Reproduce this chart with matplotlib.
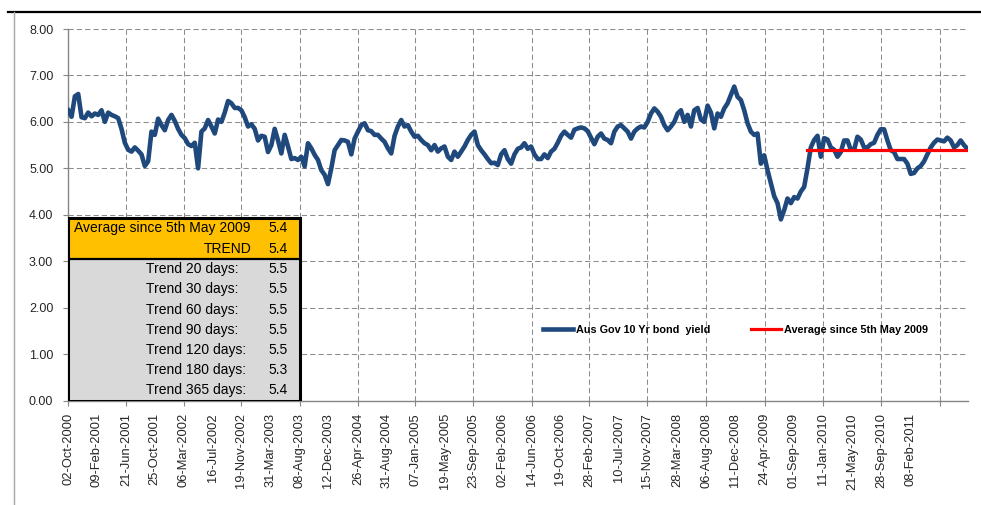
import matplotlib
matplotlib.use('Agg')
import matplotlib.pyplot as plt
from matplotlib.patches import Rectangle
from matplotlib.lines import Line2D
import pandas as pd

plt.rcParams['font.family'] = ['Liberation Sans', 'DejaVu Sans']

# Aus Gov 10 Yr bond yield (%), roughly two readings a month
series_start = '2000-10-03'
series_end = '2011-10-21'

yield_2000_03 = [6.25, 6.11, 6.55, 6.60, 6.10, 6.08, 6.20, 6.12, 6.18, 6.15,
                 6.25, 6.00, 6.20, 6.15, 6.12, 6.08, 5.85, 5.55, 5.40, 5.36,
                 5.45, 5.38, 5.30, 5.05, 5.15, 5.79, 5.72, 6.07, 5.93, 5.82,
                 6.04, 6.15, 6.02, 5.85, 5.72, 5.65, 5.52, 5.48, 5.55, 5.00,
                 5.79, 5.86, 6.04, 5.90, 5.75, 6.05, 6.00, 6.20, 6.45, 6.40,
                 6.30, 6.30, 6.25, 6.10, 5.90, 5.95, 5.85, 5.60, 5.70, 5.68,
                 5.35, 5.50, 5.85, 5.60, 5.32, 5.72, 5.47, 5.20]

yield_2003_06 = [5.22, 5.18, 5.25, 5.04, 5.54, 5.43, 5.29, 5.18, 4.96, 4.86,
                 4.66, 5.00, 5.39, 5.50, 5.61, 5.60, 5.57, 5.30, 5.64, 5.79,
                 5.93, 5.97, 5.82, 5.80, 5.72, 5.72, 5.64, 5.57, 5.43, 5.32,
                 5.70, 5.90, 6.04, 5.90, 5.93, 5.79, 5.68, 5.70, 5.61, 5.54,
                 5.50, 5.39, 5.50, 5.36, 5.43, 5.47, 5.25, 5.18, 5.36, 5.25,
                 5.36, 5.47, 5.61, 5.72, 5.79, 5.50, 5.39, 5.30, 5.20, 5.11,
                 5.12, 5.07, 5.30, 5.39, 5.20, 5.10, 5.30, 5.42]

yield_2006_09 = [5.45, 5.54, 5.42, 5.47, 5.30, 5.20, 5.20, 5.30, 5.22, 5.36,
                 5.42, 5.55, 5.70, 5.79, 5.72, 5.66, 5.83, 5.86, 5.88, 5.86,
                 5.80, 5.66, 5.52, 5.68, 5.75, 5.64, 5.61, 5.54, 5.79, 5.90,
                 5.93, 5.86, 5.79, 5.64, 5.79, 5.86, 5.90, 5.88, 6.00, 6.18,
                 6.29, 6.22, 6.11, 5.93, 5.82, 5.90, 6.00, 6.18, 6.25, 6.00,
                 6.15, 5.90, 6.25, 6.30, 6.05, 6.00, 6.35, 6.20, 5.86, 6.18,
                 6.11, 6.29, 6.40, 6.58, 6.76, 6.54, 6.47, 6.25]

yield_2009_11 = [5.97, 5.79, 5.72, 5.75, 5.10, 5.28, 4.96, 4.68, 4.40, 4.25,
                 3.90, 4.10, 4.35, 4.25, 4.38, 4.35, 4.50, 4.60, 5.00, 5.45,
                 5.61, 5.70, 5.25, 5.65, 5.62, 5.45, 5.40, 5.25, 5.35, 5.60,
                 5.60, 5.40, 5.40, 5.68, 5.62, 5.45, 5.45, 5.52, 5.55, 5.72,
                 5.84, 5.84, 5.60, 5.39, 5.35, 5.20, 5.20, 5.20, 5.10, 4.88,
                 4.90, 5.00, 5.05, 5.15, 5.30, 5.45, 5.55, 5.62, 5.60, 5.58,
                 5.66, 5.60, 5.45, 5.50, 5.60, 5.50, 5.42]

avg_start = '2009-11-02'
avg_value = 5.4

label_dates = ['2000-10-02', '2001-02-09', '2001-06-21', '2001-10-25', '2002-03-06',
               '2002-07-16', '2002-11-19', '2003-03-31', '2003-08-08', '2003-12-12',
               '2004-04-26', '2004-08-31', '2005-01-07', '2005-05-19', '2005-09-23',
               '2006-02-02', '2006-06-14', '2006-10-19', '2007-02-28', '2007-07-10',
               '2007-11-15', '2008-03-28', '2008-08-06', '2008-12-11', '2009-04-24',
               '2009-09-01', '2010-01-11', '2010-05-21', '2010-09-28', '2011-02-08']
last_grid_date = '2011-06-21'

box_labels = ['Average since 5th May 2009', 'TREND']
box_values = [5.4, 5.4]
trend_days = [20, 30, 60, 90, 120, 180, 365]
trend_values = [5.5, 5.5, 5.5, 5.5, 5.5, 5.3, 5.4]

yields = yield_2000_03 + yield_2003_06 + yield_2006_09 + yield_2009_11
dates = pd.date_range(series_start, series_end, periods=len(yields))

fig = plt.figure(figsize=(9.81, 5.05), dpi=100)
ax = fig.add_axes([68 / 981, 104.5 / 505, 900 / 981, 371.5 / 505])

bond, = ax.plot(dates, yields, color='#1F497D', lw=3.3, solid_joinstyle='round',
                zorder=3, label='Aus Gov 10 Yr bond  yield')
avg, = ax.plot([pd.Timestamp(avg_start), dates[-1]], [avg_value, avg_value],
               color='#FF0000', lw=2.3, zorder=4, label='Average since 5th May 2009')

ax.set_xlim(pd.Timestamp('2000-10-02'), pd.Timestamp('2011-10-24'))
ax.set_ylim(0, 8)
ax.set_yticks(range(0, 9))
ax.yaxis.set_major_formatter(plt.FormatStrFormatter('%.2f'))

# labels on every date, tick marks and vertical grid on every second one
ticks = pd.to_datetime(label_dates)
ax.set_xticks(ticks)
ax.set_xticklabels([d.strftime('%d-%b-%Y') for d in ticks], rotation=90)
grid_ticks = list(ticks[::2]) + [pd.Timestamp(last_grid_date)]
ax.set_xticks(grid_ticks, minor=True)
ax.xaxis.remove_overlapping_locs = False

ax.tick_params(axis='x', which='major', length=0, pad=9, labelsize=9.3, labelcolor='#262626')
ax.tick_params(axis='x', which='minor', length=3.6, width=0.8, color='#868686')
ax.tick_params(axis='y', length=3.6, width=0.8, color='#868686', pad=7,
               labelsize=9, labelcolor='#262626')

ax.grid(axis='y', which='major', color='#8c8c8c', lw=0.75, linestyle=(0, (5, 3)))
ax.grid(axis='x', which='minor', color='#8c8c8c', lw=0.75, linestyle=(0, (5, 3)))
ax.set_axisbelow(True)
for side in ['top', 'right']:
    ax.spines[side].set_visible(False)
for side in ['left', 'bottom']:
    ax.spines[side].set_color('#868686')
    ax.spines[side].set_linewidth(1)

# summary box in the lower left
bw, top, split = 0.2578, 0.491, 0.381
ax.add_patch(Rectangle((0, split), bw, top - split, transform=ax.transAxes,
                       fc='#FFC000', ec='none', zorder=5))
ax.add_patch(Rectangle((0, 0), bw, split, transform=ax.transAxes,
                       fc='#D9D9D9', ec='none', zorder=5))
ax.add_line(Line2D([0, bw], [split, split], transform=ax.transAxes,
                   color='black', lw=1.6, zorder=6))
ax.add_patch(Rectangle((0, 0), bw, top, transform=ax.transAxes,
                       fill=False, ec='black', lw=2.2, zorder=7))

row_h = (top - split) / 2
for i, (lab, val) in enumerate(zip(box_labels, box_values)):
    y = top - row_h * (i + 0.5)
    if i == 0:
        ax.text(0.0067, y, lab, transform=ax.transAxes, ha='left', va='center',
                fontsize=10, zorder=8)
    else:
        ax.text(0.2044, y, lab, transform=ax.transAxes, ha='right', va='center',
                fontsize=10, zorder=8)
    ax.text(0.2444, y, f'{val:.1f}', transform=ax.transAxes, ha='right',
            va='center', fontsize=10, zorder=8)

row_h = split / len(trend_days)
for i, (d, val) in enumerate(zip(trend_days, trend_values)):
    y = split - row_h * (i + 0.5)
    ax.text(0.0872, y, f'Trend {d} days:', transform=ax.transAxes, ha='left',
            va='center', fontsize=10, zorder=8)
    ax.text(0.2444, y, f'{val:.1f}', transform=ax.transAxes, ha='right',
            va='center', fontsize=10, zorder=8)

leg = ax.legend(handles=[bond, avg], ncol=2, loc='center left',
                bbox_to_anchor=(0.5278, 0.19), frameon=False, borderpad=0,
                borderaxespad=0, handlelength=2.8, handletextpad=0.25,
                columnspacing=3.7, prop={'weight': 'bold', 'size': 7.8})

# frame lines around the chart block
fig.add_artist(Line2D([8 / 981, 1], [1 - 12 / 505, 1 - 12 / 505],
                      color='black', lw=1.6))
fig.add_artist(Line2D([14 / 981, 14 / 981], [0, 1 - 12 / 505],
                      color='#a6a6a6', lw=1))

fig.savefig('out.png', dpi=100)
